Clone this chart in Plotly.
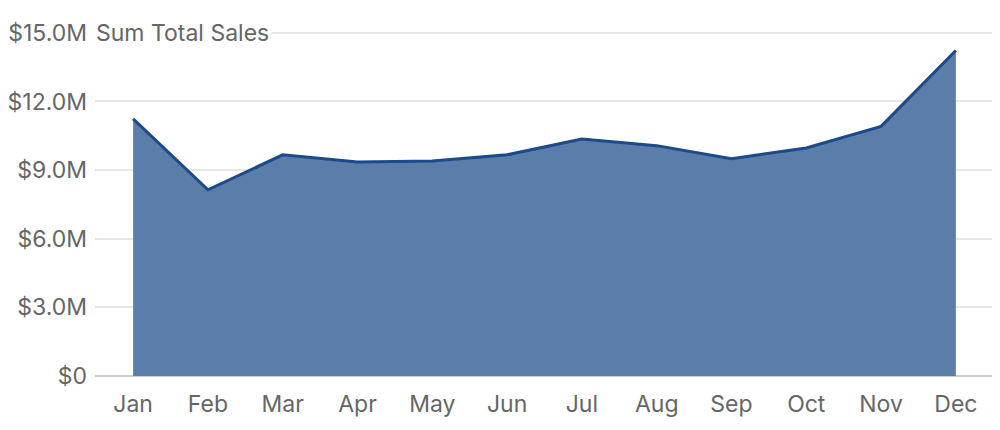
import plotly.graph_objects as go

months = ["Jan", "Feb", "Mar", "Apr", "May", "Jun",
          "Jul", "Aug", "Sep", "Oct", "Nov", "Dec"]
total_sales = [11.24e6, 8.14e6, 9.67e6, 9.35e6, 9.40e6, 9.67e6,
               10.36e6, 10.07e6, 9.50e6, 9.97e6, 10.91e6, 14.23e6]
tick_vals = [0, 3e6, 6e6, 9e6, 12e6, 15e6]
tick_text = ["$0", "$3.0M", "$6.0M", "$9.0M", "$12.0M", "$15.0M"]

font_family = "Inter, Roboto, sans-serif"
grey_text = "#666666"

fig = go.Figure(
    data=[
        go.Scatter(
            x=months,
            y=total_sales,
            mode="lines",
            fill="tozeroy",
            fillcolor="#5b7daa",
            line=dict(color="#1c4a8a", width=3),
            hoverinfo="x+y",
            showlegend=False,
        )
    ],
    layout=go.Layout(
        width=1000,
        height=430,
        # page body has an 8px margin, so the plot area is shifted back by it
        margin=dict(l=87, r=14, t=18, b=61.5),
        paper_bgcolor="white",
        plot_bgcolor="white",
        font=dict(family=font_family, size=23, color=grey_text),
        xaxis=dict(
            range=[-0.51, 11.51],
            showgrid=False,
            showline=False,
            ticks="",
            automargin=False,
            ticklabelstandoff=12,
            tickfont=dict(size=23, color=grey_text),
        ),
        yaxis=dict(
            range=[0, 15.3e6],
            tickvals=tick_vals,
            ticktext=tick_text,
            showgrid=True,
            gridcolor="#e6e6e6",
            gridwidth=1.5,
            zeroline=True,
            zerolinecolor="#cccccc",
            zerolinewidth=2,
            ticks="",
            automargin=False,
            ticklabelstandoff=7,
            tickfont=dict(size=23, color=grey_text),
        ),
        annotations=[
            dict(
                text="Sum Total Sales",
                xref="paper",
                yref="y",
                x=0,
                y=15e6,
                xanchor="left",
                yanchor="middle",
                showarrow=False,
                bgcolor="white",
                borderpad=2,
                xshift=-2,
                font=dict(size=23, color=grey_text, family=font_family),
            )
        ],
    ),
)

fig.write_html("out.html")
